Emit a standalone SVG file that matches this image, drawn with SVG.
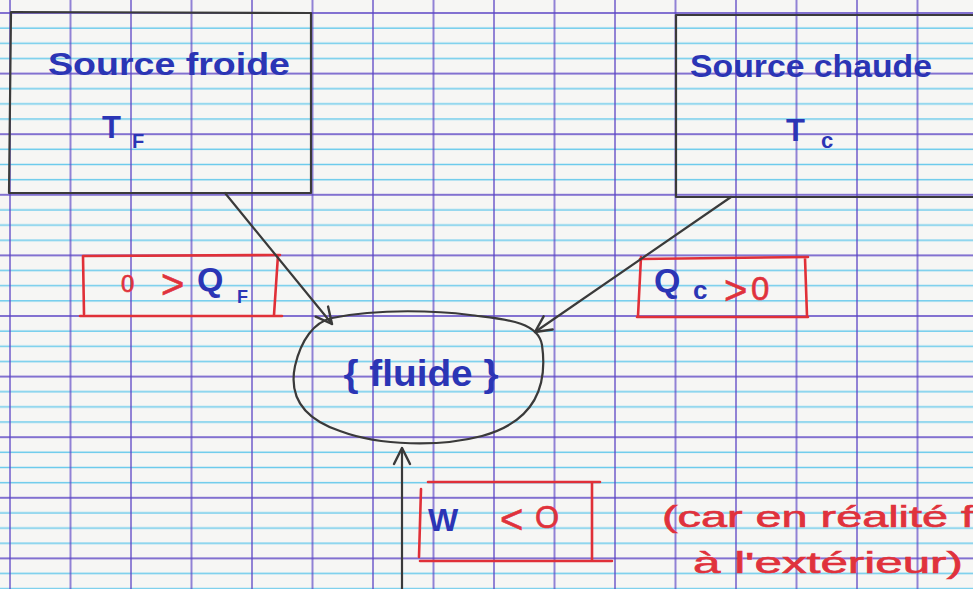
<svg xmlns="http://www.w3.org/2000/svg" width="973" height="589" viewBox="0 0 973 589">
  <style>
    .ink-blue { fill: #2b35b5; font-family: "Liberation Sans", "DejaVu Sans", sans-serif; font-weight: bold; }
    .ink-red { fill: #e0323c; stroke: #e0323c; stroke-width: 0.6; font-family: "Liberation Sans", "DejaVu Sans", sans-serif; }
    .pencil { fill: none; stroke: #3a3a3a; stroke-width: 2.2; stroke-linecap: round; stroke-linejoin: round; }
    .redbox { fill: none; stroke: #e03038; stroke-width: 2.6; stroke-linecap: round; stroke-linejoin: round; }
  </style>
  <defs>
    <!-- squared school paper: one major square with three minor rulings -->
    <pattern id="seyes" patternUnits="userSpaceOnUse" x="9" y="12" width="60.5" height="60.6">
      <line x1="0" y1="16.15" x2="60.5" y2="16.15" stroke="#6ccbec" stroke-width="1.4"/>
      <line x1="0" y1="31.3" x2="60.5" y2="31.3" stroke="#6ccbec" stroke-width="1.4"/>
      <line x1="0" y1="46.45" x2="60.5" y2="46.45" stroke="#6ccbec" stroke-width="1.4"/>
      <line x1="0" y1="1" x2="60.5" y2="1" stroke="#5a44c4" stroke-width="1.7"/>
      <line x1="1" y1="0" x2="1" y2="60.6" stroke="#5a44c4" stroke-width="1.3"/>
    </pattern>
    <marker id="vhead" viewBox="0 0 20 20" refX="18" refY="10" markerWidth="20" markerHeight="20" markerUnits="userSpaceOnUse" orient="auto">
      <path d="M2 2 L18 10 L2 18" fill="none" stroke="#3a3a3a" stroke-width="2.4" stroke-linecap="round" stroke-linejoin="round"/>
    </marker>
  </defs>

  <!-- paper -->
  <rect width="973" height="589" fill="#f6f6f4"/>
  <rect width="973" height="589" fill="url(#seyes)"/>

  <!-- cold reservoir -->
  <g id="source-froide">
    <path class="pencil" d="M11 12 L311 13 L311 193 L9 193 Z"/>
    <text class="ink-blue" x="48" y="75" font-size="31" textLength="242" lengthAdjust="spacingAndGlyphs">Source froide</text>
    <text class="ink-blue" x="102" y="138" font-size="31">T</text>
    <text class="ink-blue" x="132" y="148" font-size="20">F</text>
  </g>

  <!-- hot reservoir -->
  <g id="source-chaude">
    <path class="pencil" d="M990 15 L676 15 L676 197 L990 197"/>
    <text class="ink-blue" x="690" y="77" font-size="31" textLength="242" lengthAdjust="spacingAndGlyphs">Source chaude</text>
    <text class="ink-blue" x="786" y="141" font-size="31">T</text>
    <text class="ink-blue" x="821" y="148" font-size="22">c</text>
  </g>

  <!-- working fluid -->
  <g id="fluide">
    <path class="pencil" d="M332 318 C380 308 440 311 470 315 C500 319 538 320 542 345 C547 380 540 420 482 436 C440 447 380 446 340 431 C296 416 290 390 295 366 C301 340 314 322 332 318 Z"/>
    <text class="ink-blue" x="421" y="386" font-size="36" text-anchor="middle" textLength="155" lengthAdjust="spacingAndGlyphs">{ fluide }</text>
  </g>

  <!-- heat from the cold side -->
  <g id="label-qf">
    <path class="redbox" d="M83 256 L280 255 M83 256 L84 314 M278 255 L274 315 M80 316 L282 316"/>
    <text class="ink-red" x="121" y="292" font-size="24">0</text>
    <text class="ink-red" x="161" y="298" font-size="40">&gt;</text>
    <text class="ink-blue" x="197" y="291" font-size="34">Q</text>
    <text class="ink-blue" x="237" y="303" font-size="18">F</text>
  </g>

  <!-- heat from the hot side -->
  <g id="label-qc">
    <path class="redbox" d="M640 259 L808 257 M641 257 L638 316 M805 258 L807 316 M637 317 L808 317"/>
    <text class="ink-blue" x="654" y="292" font-size="34">Q</text>
    <text class="ink-blue" x="693" y="299" font-size="26">c</text>
    <text class="ink-red" x="724" y="304" font-size="40">&gt;</text>
    <text class="ink-red" x="751" y="300" font-size="33">0</text>
  </g>

  <!-- work -->
  <g id="label-w">
    <path class="redbox" d="M428 482 L600 482 M592 482 L592 560 M420 561 L612 561 M421 489 L419 557"/>
    <text class="ink-blue" x="428" y="531" font-size="32">W</text>
    <text class="ink-red" x="500" y="533" font-size="40">&lt;</text>
    <text class="ink-red" x="535" y="528" font-size="31">O</text>
  </g>

  <!-- side remark -->
  <g id="remarque">
    <text class="ink-red" x="662" y="527" font-size="29" textLength="312" lengthAdjust="spacingAndGlyphs">(car en réalité f</text>
    <text class="ink-red" x="693" y="573" font-size="29" textLength="270" lengthAdjust="spacingAndGlyphs">à l'extérieur)</text>
  </g>

  <!-- energy exchange arrows -->
  <g id="connectors">
    <line class="pencil" x1="225" y1="193" x2="332" y2="324" marker-end="url(#vhead)"/>
    <line class="pencil" x1="731" y1="197" x2="535" y2="332" marker-end="url(#vhead)"/>
    <line class="pencil" x1="402" y1="589" x2="402" y2="448" marker-end="url(#vhead)"/>
  </g>
</svg>
